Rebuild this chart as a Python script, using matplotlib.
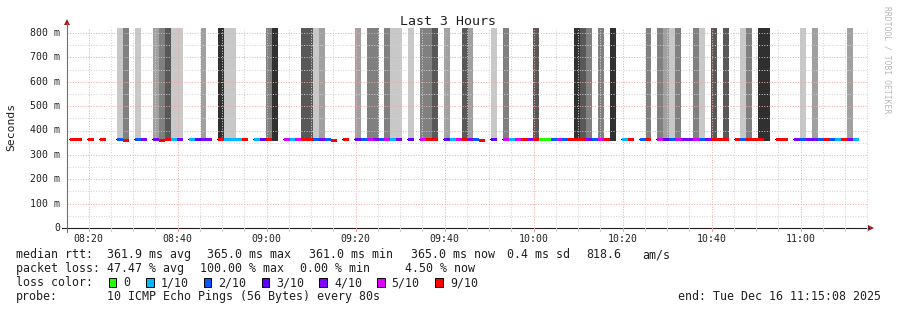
import matplotlib
matplotlib.use("Agg")
import matplotlib.pyplot as plt
from matplotlib.patches import Rectangle, Polygon
from matplotlib.lines import Line2D

# ---------------- data ----------------
title = "Last 3 Hours"
y_label = "Seconds"
x_tick_labels = ["08:20", "08:40", "09:00", "09:20", "09:40", "10:00", "10:20", "10:40", "11:00"]
x_tick_minutes = [500, 520, 540, 560, 580, 600, 620, 640, 660]   # minutes since midnight
y_ticks = [0, 100, 200, 300, 400, 500, 600, 700, 800]
y_tick_labels = ["0", "100 m", "200 m", "300 m", "400 m", "500 m", "600 m", "700 m", "800 m"]

view_start = 8 * 60 + 15 + 8 / 60          # 08:15:08
view_end = view_start + 180                # 11:15:08
data_start = 8 * 60 + 15 + 48 / 60         # first 80 s step
step_min = 80 / 60

N = None
# loss bucket per 80 s step (0,1,2,3,4,5,9 -> legend colour; 10 = total loss)
loss = [9, 9, N, 9, N, 9, N, N, 2, 9,
        N, 2, 4, N, 4, 9, 9, 1, 4, N,
        1, 3, 4, 4, N, 9, 1, 1, 1, 9,
        N, 1, 3, 9, 10, N, 5, 1, 5, 9,
        9, 2, 4, 2, 9, N, 9, N, 3, 2,
        5, 4, 2, 5, 1, 4, N, 3, N, 5,
        9, 9, N, 3, 1, 5, 9, 4, 2, 9,
        N, 3, N, 5, 1, 5, 9, 4, 9, 0,
        0, 2, 5, 2, 9, 9, 9, 4, 2, 5,
        9, 10, N, 1, 9, N, 2, 9, N, 5,
        3, 2, 5, 4, 4, 5, 2, 4, 9, 9,
        9, N, 9, 2, 9, 9, 9, 10, N, 9,
        9, N, 4, 2, 4, 4, 2, 9, 2, 1,
        9, 4, 1]

# median rtt (ms) per step
median = [363, 363, N, 363, N, 363, N, N, 363, 361,
          N, 363, 363, N, 363, 361, 363, 363, 363, N,
          363, 363, 363, 363, N, 363, 363, 363, 363, 363,
          N, 363, 363, 363, N, N, 363, 363, 363, 363,
          363, 363, 363, 363, 361, N, 363, N, 363, 363,
          363, 363, 363, 363, 363, 363, N, 363, N, 363,
          363, 363, N, 363, 363, 363, 363, 363, 363, 361,
          N, 363, N, 363, 363, 363, 363, 363, 363, 363,
          363, 363, 363, 363, 363, 363, 363, 363, 363, 363,
          363, N, N, 363, 363, N, 363, 363, N, 363,
          363, 363, 363, 363, 363, 363, 363, 363, 363, 363,
          363, N, 363, 363, 363, 363, 363, N, N, 363,
          363, N, 363, 363, 363, 363, 363, 363, 363, 363,
          363, 365, 365]

# smoke density level per step (0 = none, 1 light ... 5 dark)
smoke = [0, 0, 0, 0, 0, 0, 0, 0, 1, 3,
         0, 1, 0, 0, 2, 3, 4, 1, 1, 0,
         0, 0, 2, 0, 0, 5, 1, 1, 0, 0,
         0, 0, 0, 3, 5, 0, 0, 0, 0, 4,
         4, 1, 2, 0, 0, 0, 0, 0, 2, 0,
         3, 3, 0, 3, 1, 1, 0, 1, 0, 3,
         3, 4, 0, 2, 0, 0, 4, 2, 0, 0,
         0, 1, 0, 3, 0, 0, 0, 0, 4, 0,
         0, 0, 0, 0, 0, 5, 4, 3, 0, 3,
         0, 5, 0, 0, 0, 0, 0, 3, 0, 3,
         2, 1, 3, 0, 0, 3, 1, 0, 4, 0,
         4, 0, 0, 1, 3, 0, 5, 5, 0, 0,
         0, 0, 0, 1, 0, 2, 0, 0, 0, 0,
         0, 2, 0]
smoke_low = 357
smoke_high = 1000

loss_labels = ["0", "1/10", "2/10", "3/10", "4/10", "5/10", "9/10"]
loss_keys = [0, 1, 2, 3, 4, 5, 9]

stats_rtt = ["median rtt:", "361.9 ms avg", "365.0 ms max", "361.0 ms min",
             "365.0 ms now", "0.4 ms sd", "818.6", "am/s"]
stats_loss = ["packet loss:", "47.47 % avg", "100.00 % max", "0.00 % min", "4.50 % now"]
probe_text = ["probe:", "10 ICMP Echo Pings (56 Bytes) every 80s"]
end_text = "end: Tue Dec 16 11:15:08 2025"
watermark = "RRDTOOL / TOBI OETIKER"

# ---------------- style ----------------
loss_colors = {0: "#26ff00", 1: "#00b8ff", 2: "#0059ff", 3: "#5e00ff",
               4: "#7e00ff", 5: "#dd00ff", 9: "#ff0000", 10: "#ff0000"}
shades = {1: "#c8c8c8", 2: "#a0a0a0", 3: "#808080", 4: "#585858", 5: "#303030"}
MONO = "DejaVu Sans Mono"

W, H = 897, 310
fig = plt.figure(figsize=(W / 100, H / 100), dpi=100)
fig.patch.set_facecolor("white")

L, R, T, B = 67, 868, 28, 228
PX_MS = 0.24375            # pixels per ms on the y axis
ax = fig.add_axes([L / W, 1 - B / H, (R - L) / W, (B - T) / H])
ax.set_xlim(view_start, view_end)
ax.set_ylim(0, (B - T) / PX_MS)
for s in ax.spines.values():
    s.set_visible(False)
ax.set_xticks([])
ax.set_yticks([])
ax.patch.set_alpha(0)

px_min = (R - L) / 180.0  # pixels per minute

# smoke
for i, lev in enumerate(smoke):
    if lev:
        t = data_start + i * step_min
        ax.bar(t, smoke_high - smoke_low, bottom=smoke_low, width=step_min,
               align="edge", color=shades[lev], linewidth=0, zorder=1)

# grid (dotted)
dot = (0, (1, 1.6))
MAJ, MIN = "#eeaaaa", "#d2d2d2"
m = 500
while m < view_end:
    major = (m % 20 == 0)
    ax.axvline(m, color=MAJ if major else MIN, lw=0.72, linestyle=dot, zorder=2)
    m += 5
v = 50
while v <= 820:
    major = (v % 100 == 0)
    ax.axhline(v, color=MAJ if major else MIN, lw=0.72, linestyle=dot, zorder=2)
    v += 50

# median: black 1px line (visible after gaps) then 3px colored loss segments
line_h = 1.0 / PX_MS
seg_h = 3.0 / PX_MS
for i, md in enumerate(median):
    if md is None:
        continue
    t = data_start + i * step_min
    ax.bar(t - 1.0 / px_min, line_h, bottom=md - line_h / 2, width=step_min + 1.0 / px_min,
           align="edge", color="black", linewidth=0, zorder=3)
for i, (md, ls) in enumerate(zip(median, loss)):
    if md is None:
        continue
    t = data_start + i * step_min
    ax.bar(t, seg_h, bottom=md - seg_h / 2, width=step_min, align="edge",
           color=loss_colors[ls], linewidth=0, zorder=4)


def fx(x):
    return x / W


def fy(y):
    return 1 - y / H


# axes lines and arrows
fig.add_artist(Line2D([fx(62), fx(869)], [fy(228), fy(228)], color="#202020", lw=0.8))
fig.add_artist(Line2D([fx(67), fx(67)], [fy(232), fy(23)], color="#707070", lw=0.8))
fig.add_artist(Polygon([(fx(64), fy(25)), (fx(70), fy(25)), (fx(67), fy(19))],
                       closed=True, color="#9b1c1c", lw=0))
fig.add_artist(Polygon([(fx(868), fy(225)), (fx(868), fy(231)), (fx(874), fy(228))],
                       closed=True, color="#9b1c1c", lw=0))

# x ticks marks and labels
m = 500
while m < view_end:
    x = L + (m - view_start) * px_min
    major = (m % 20 == 0)
    fig.add_artist(Line2D([fx(x), fx(x)], [fy(228), fy(231)],
                          color="#f0a0a0" if major else "#d0d0d0", lw=0.8))
    m += 5
for lab, m in zip(x_tick_labels, x_tick_minutes):
    x = L + (m - view_start) * px_min
    fig.text(fx(x), fy(241.5), lab, ha="center", va="baseline",
             family=MONO, fontsize=7.1, color="#202020")

# y tick labels
for v, lab in zip(y_ticks, y_tick_labels):
    y = B - v * PX_MS
    fig.text(fx(60), fy(y), lab, ha="right", va="center",
             family=MONO, fontsize=7.1, color="#202020")

fig.text(fx(11), fy(127), y_label, rotation=90, ha="center", va="center",
         family=MONO, fontsize=8.2, color="#202020")
fig.text(fx(448), fy(25), title, ha="center", va="baseline",
         family=MONO, fontsize=9.5, color="#202020")
fig.text(fx(887), fy(60), watermark, rotation=-90, ha="center", va="center",
         family=MONO, fontsize=5.8, color="#b8b8b8")

# legend lines
FS = 8.35
rtt_x = [16, 107, 207, 309, 411, 507, 586, 642]
for s, x in zip(stats_rtt, rtt_x):
    fig.text(fx(x), fy(258.3), s, ha="left", va="baseline", family=MONO, fontsize=FS, color="#202020")
loss_x = [16, 107, 200, 300, 405]
for s, x in zip(stats_loss, loss_x):
    fig.text(fx(x), fy(272.3), s, ha="left", va="baseline", family=MONO, fontsize=FS, color="#202020")

fig.text(fx(16), fy(286.3), "loss color:", ha="left", va="baseline", family=MONO, fontsize=FS, color="#202020")
box_x = [108.5, 146, 203.5, 261.5, 319, 377, 435]
lab_x = [123, 160.5, 218, 276, 334, 391.5, 450]
for k, lab, bx, lx in zip(loss_keys, loss_labels, box_x, lab_x):
    fig.add_artist(Rectangle((fx(bx), fy(287)), 7.5 / W, 9.5 / H,
                             facecolor=loss_colors[k], edgecolor="black", lw=0.7))
    fig.text(fx(lx), fy(286.3), lab, ha="left", va="baseline", family=MONO, fontsize=FS, color="#202020")

fig.text(fx(16), fy(300), probe_text[0], ha="left", va="baseline", family=MONO, fontsize=FS, color="#202020")
fig.text(fx(107), fy(300), probe_text[1], ha="left", va="baseline", family=MONO, fontsize=FS, color="#202020")
fig.text(fx(881), fy(300), end_text, ha="right", va="baseline", family=MONO, fontsize=FS, color="#202020")

fig.savefig("out.png", dpi=100, facecolor="white")
